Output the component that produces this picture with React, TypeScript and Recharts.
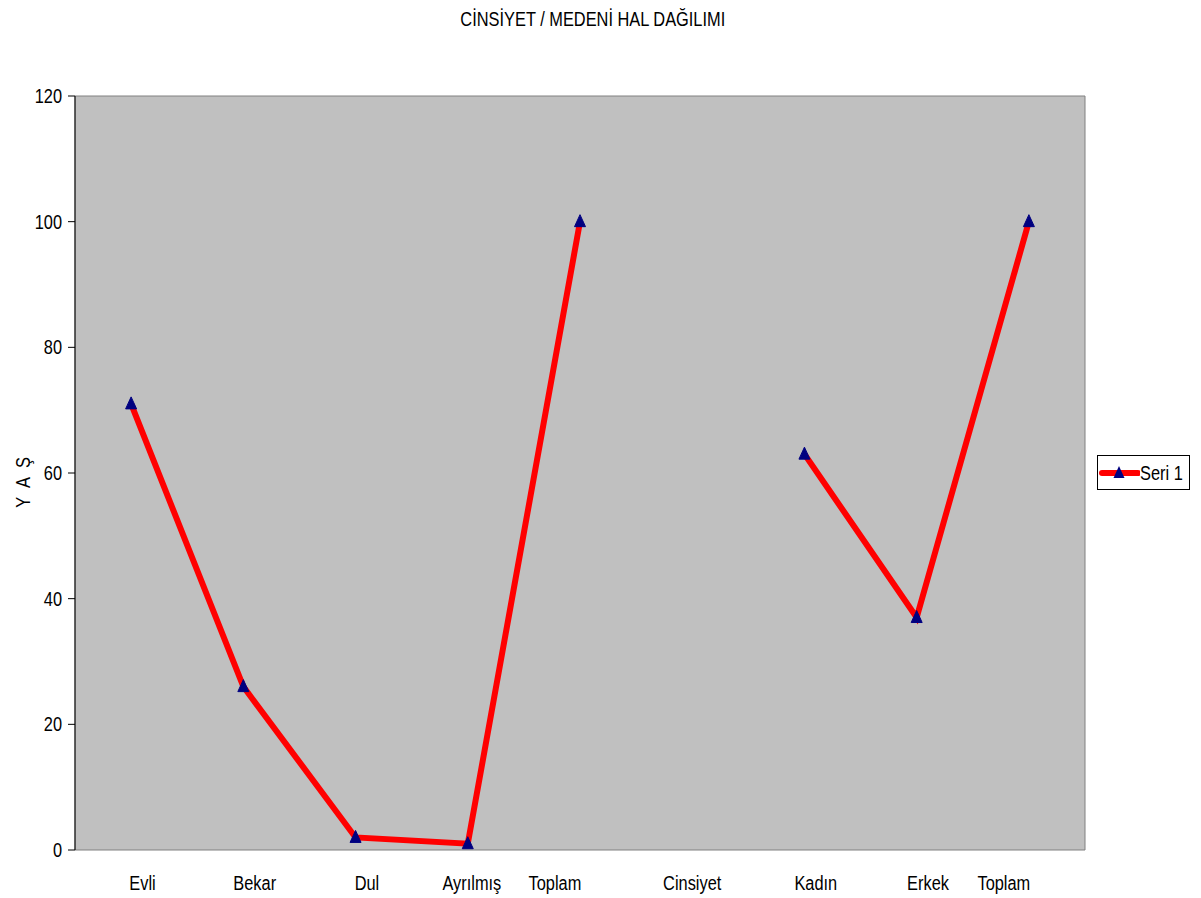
import React from "react";
import {
  LineChart,
  Line,
  XAxis,
  YAxis,
  CartesianGrid,
  Legend,
  ReferenceArea,
  Label,
} from "recharts";

const categories = [
  "     Evli",
  "     Bekar",
  "     Dul",
  "  Ayrılmış",
  "Toplam           ",
  "Cinsiyet",
  "     Kadın",
  "     Erkek",
  "Toplam           ",
];
const seriesValues: (number | null)[] = [71, 26, 2, 1, 100, null, 63, 37, 100];
const yTicks = [0, 20, 40, 60, 80, 100, 120];
const gridValues = [20, 40, 60, 80, 100];
const seriesName = "Seri 1";
const title = "CİNSİYET / MEDENİ HAL DAĞILIMI";
const yLabel = "Y A Ş";

const boundaryTicks = categories.map((_, i) => i).concat([categories.length]);
const centerTicks = categories.map((_, i) => i + 0.5);
const data = categories.map((c, i) => ({ x: i + 0.5, label: c, v: seriesValues[i] }));

const FONT = '"Liberation Sans", Arial, sans-serif';
const FS = 21;
const NARROW = 0.78;

const NarrowText = ({
  x,
  y,
  anchor,
  rotate = 0,
  spacing = 0,
  children,
}: {
  x: number;
  y: number;
  anchor: "start" | "middle" | "end";
  rotate?: number;
  spacing?: number;
  children: React.ReactNode;
}) => (
  <g transform={`translate(${x},${y}) rotate(${rotate}) scale(${NARROW},1)`}>
    <text
      x={0}
      y={0}
      textAnchor={anchor}
      fontSize={FS}
      fontFamily={FONT}
      fill="#000"
      letterSpacing={spacing}
      xmlSpace="preserve"
      style={{ whiteSpace: "pre" }}
    >
      {children}
    </text>
  </g>
);

const Triangle = (props: any) => {
  const { cx, cy } = props;
  if (cx == null || cy == null || props.value == null) return null;
  return (
    <polygon
      points={`${cx},${cy - 7} ${cx - 5.5},${cy + 5} ${cx + 5.5},${cy + 5}`}
      fill="#000080"
      stroke="#000080"
      strokeWidth={1}
    />
  );
};

const CatTick = (props: any) => {
  const { x, y, index } = props;
  return (
    <NarrowText x={x} y={y + 40} anchor="middle">
      {categories[index] ?? ""}
    </NarrowText>
  );
};

const ValueTick = (props: any) => {
  const { x, y, payload } = props;
  return (
    <NarrowText x={x} y={y + 7} anchor="end">
      {String(payload.value)}
    </NarrowText>
  );
};

const YLabelContent = (props: any) => {
  const vb = props.viewBox || { x: 0, y: 0, height: 0 };
  return (
    <NarrowText x={30} y={vb.y + vb.height / 2 + 8} anchor="middle" rotate={-90} spacing={3.5}>
      {yLabel}
    </NarrowText>
  );
};

const LegendContent = () => (
  <div
    style={{
      border: "1px solid #000",
      background: "#fff",
      width: 91,
      height: 33,
      display: "flex",
      alignItems: "center",
      boxSizing: "content-box",
      whiteSpace: "nowrap",
      overflow: "visible",
    }}
  >
    <svg width={42} height={33} style={{ flex: "none" }}>
      <line x1={4} y1={17} x2={40} y2={17} stroke="#FF0000" strokeWidth={6} strokeLinecap="round" />
      <polygon points="21,10 15.5,22 26.5,22" fill="#000080" />
    </svg>
    <span
      style={{
        fontFamily: FONT,
        fontSize: FS,
        color: "#000",
        display: "inline-block",
        transform: `scaleX(${NARROW})`,
        transformOrigin: "left center",
        whiteSpace: "nowrap",
      }}
    >
      {seriesName}
    </span>
  </div>
);

export default function App() {
  return (
    <div
      style={{
        position: "absolute",
        left: 0,
        top: 0,
        width: 1201,
        height: 898,
        background: "#fff",
        fontFamily: FONT,
      }}
    >
      <div
        style={{
          position: "absolute",
          left: 0,
          top: 7,
          width: 1185,
          textAlign: "center",
          fontSize: FS,
          lineHeight: "24px",
          color: "#000",
          zIndex: 2,
        }}
      >
        <span style={{ display: "inline-block", transform: `scaleX(${NARROW})`, whiteSpace: "nowrap" }}>
          {title}
        </span>
      </div>
      <LineChart
        width={1201}
        height={898}
        data={data}
        margin={{ top: 96, right: 23, bottom: 0, left: 0 }}
      >
        <ReferenceArea
          xAxisId="t"
          x1={0}
          x2={categories.length}
          y1={0}
          y2={120}
          fill="#C0C0C0"
          fillOpacity={1}
          stroke="#808080"
          strokeWidth={1}
          ifOverflow="visible"
        />
        <CartesianGrid
          xAxisId="t"
          vertical={false}
          horizontalValues={gridValues}
          stroke="#000"
          strokeWidth={1}
        />
        <XAxis
          xAxisId="t"
          type="number"
          dataKey="x"
          domain={[0, categories.length]}
          ticks={boundaryTicks}
          height={0}
          tick={false}
          tickSize={7}
          axisLine={{ stroke: "#000", strokeWidth: 1 }}
          tickLine={{ stroke: "#000", strokeWidth: 1 }}
          allowDataOverflow
        />
        <XAxis
          xAxisId="l"
          type="number"
          dataKey="x"
          domain={[0, categories.length]}
          ticks={centerTicks}
          height={48}
          axisLine={false}
          tickLine={false}
          tickSize={0}
          tickMargin={0}
          tick={<CatTick />}
          interval={0}
          allowDataOverflow
        />
        <YAxis
          type="number"
          domain={[0, 120]}
          ticks={yTicks}
          width={75}
          interval={0}
          tickSize={7}
          tickMargin={6}
          axisLine={{ stroke: "#000", strokeWidth: 1 }}
          tickLine={{ stroke: "#000", strokeWidth: 1 }}
          tick={<ValueTick />}
        >
          <Label content={<YLabelContent />} />
        </YAxis>
        <Legend
          layout="horizontal"
          verticalAlign="middle"
          align="right"
          content={<LegendContent />}
          wrapperStyle={{ left: 1097, top: 455, width: 93, height: 35 }}
        />
        <Line
          xAxisId="t"
          type="linear"
          dataKey="v"
          name={seriesName}
          stroke="#FF0000"
          strokeWidth={6}
          dot={<Triangle />}
          activeDot={false}
          connectNulls={false}
          isAnimationActive={false}
        />
      </LineChart>
    </div>
  );
}
